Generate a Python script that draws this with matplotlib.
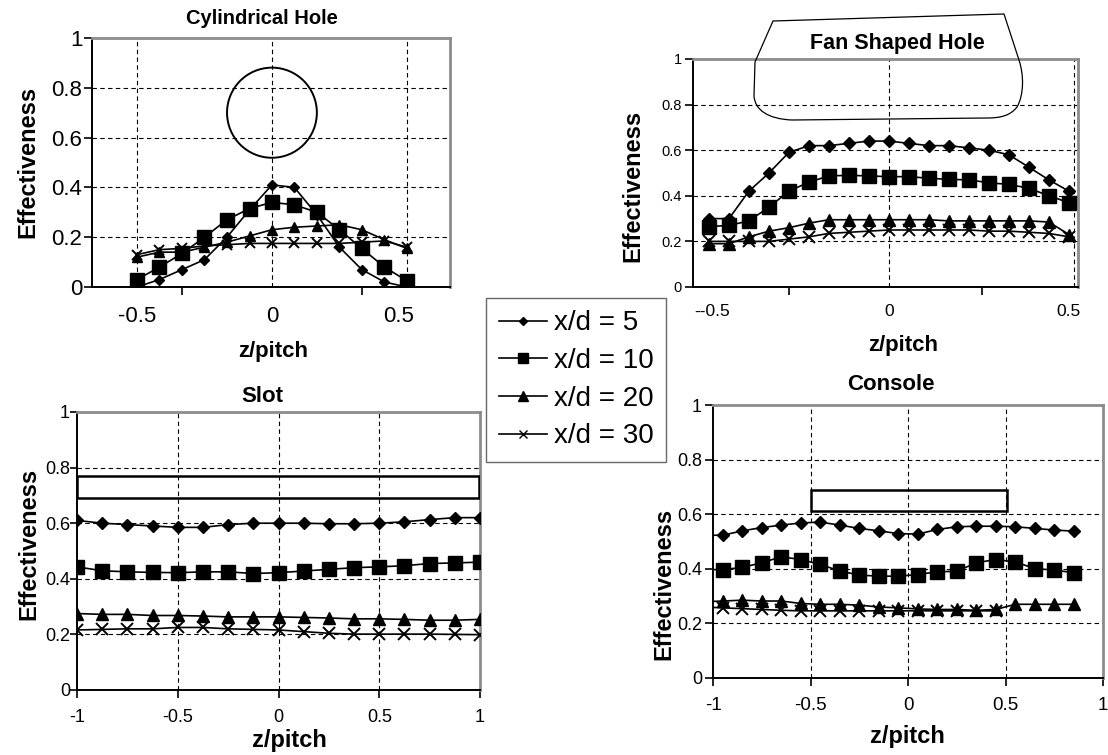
import matplotlib
matplotlib.use("Agg")
import matplotlib.pyplot as plt
from matplotlib.patches import Ellipse, Rectangle, PathPatch
from matplotlib.path import Path
from matplotlib.lines import Line2D
import matplotlib.transforms as mtransforms

# ---------------- data ----------------
series_labels = ["x/d = 5", "x/d = 10", "x/d = 20", "x/d = 30"]

cyl_z = [-0.5, -0.417, -0.333, -0.25, -0.167, -0.083, 0.0, 0.083, 0.167, 0.25, 0.333, 0.417, 0.5]
cyl_5 = [0.00, 0.03, 0.07, 0.11, 0.20, 0.31, 0.41, 0.40, 0.29, 0.16, 0.07, 0.02, 0.00]
cyl_10 = [0.03, 0.08, 0.135, 0.20, 0.27, 0.315, 0.34, 0.33, 0.30, 0.23, 0.155, 0.08, 0.025]
cyl_20 = [0.12, 0.14, 0.14, 0.16, 0.18, 0.205, 0.23, 0.24, 0.245, 0.25, 0.23, 0.19, 0.155]
cyl_30 = [0.13, 0.15, 0.155, 0.165, 0.17, 0.175, 0.175, 0.175, 0.175, 0.175, 0.18, 0.185, 0.16]

fan_z = [-0.5, -0.444, -0.389, -0.333, -0.278, -0.222, -0.167, -0.111, -0.056, 0.0,
         0.056, 0.111, 0.167, 0.222, 0.278, 0.333, 0.389, 0.444, 0.5]
fan_5 = [0.30, 0.30, 0.42, 0.50, 0.59, 0.62, 0.62, 0.63, 0.64, 0.64, 0.63, 0.62, 0.62, 0.61, 0.60, 0.58, 0.525, 0.47, 0.42]
fan_10 = [0.265, 0.27, 0.29, 0.35, 0.42, 0.46, 0.487, 0.49, 0.487, 0.484, 0.484, 0.477, 0.472, 0.47, 0.457, 0.45, 0.433, 0.40, 0.37]
fan_20 = [0.19, 0.19, 0.22, 0.245, 0.26, 0.28, 0.295, 0.295, 0.295, 0.295, 0.295, 0.295, 0.29, 0.29, 0.29, 0.29, 0.29, 0.285, 0.23]
fan_30 = [0.20, 0.20, 0.20, 0.20, 0.21, 0.22, 0.235, 0.24, 0.245, 0.25, 0.25, 0.25, 0.25, 0.25, 0.245, 0.245, 0.24, 0.235, 0.22]

slot_z = [-1.0, -0.875, -0.75, -0.625, -0.5, -0.375, -0.25, -0.125, 0.0,
          0.125, 0.25, 0.375, 0.5, 0.625, 0.75, 0.875, 1.0]
slot_5 = [0.61, 0.60, 0.595, 0.59, 0.585, 0.585, 0.595, 0.60, 0.60, 0.60, 0.598, 0.598, 0.60, 0.605, 0.613, 0.62, 0.62]
slot_10 = [0.443, 0.429, 0.425, 0.423, 0.422, 0.425, 0.425, 0.419, 0.422, 0.428, 0.434, 0.44, 0.443, 0.447, 0.455, 0.457, 0.46]
slot_20 = [0.275, 0.272, 0.272, 0.268, 0.268, 0.266, 0.263, 0.263, 0.263, 0.261, 0.259, 0.256, 0.256, 0.254, 0.251, 0.251, 0.254]
slot_30 = [0.216, 0.218, 0.22, 0.22, 0.225, 0.225, 0.22, 0.218, 0.216, 0.21, 0.204, 0.201, 0.201, 0.201, 0.201, 0.2, 0.199]

con_z = [-1.05, -0.95, -0.85, -0.75, -0.65, -0.55, -0.45, -0.35, -0.25, -0.15,
         -0.05, 0.05, 0.15, 0.25, 0.35, 0.45, 0.55, 0.65, 0.75, 0.85]
con_5 = [0.523, 0.523, 0.539, 0.551, 0.56, 0.568, 0.571, 0.56, 0.548, 0.539, 0.529, 0.527, 0.544, 0.554, 0.556, 0.556, 0.554, 0.548, 0.542, 0.538]
con_10 = [0.397, 0.397, 0.405, 0.422, 0.444, 0.434, 0.416, 0.392, 0.377, 0.373, 0.373, 0.379, 0.389, 0.391, 0.422, 0.434, 0.425, 0.401, 0.395, 0.386]
con_20 = [0.279, 0.282, 0.285, 0.282, 0.282, 0.273, 0.27, 0.27, 0.267, 0.26, 0.257, 0.253, 0.251, 0.251, 0.248, 0.251, 0.27, 0.27, 0.27, 0.27]
con_30 = [0.26, 0.257, 0.254, 0.251, 0.248, 0.246, 0.246, 0.246, 0.246, 0.246, 0.246, 0.246, 0.246, 0.246, 0.246, 0.246]

y_ticks = [0, 0.2, 0.4, 0.6, 0.8, 1]
y_ticklabels = ["0", "0.2", "0.4", "0.6", "0.8", "1"]

# ---------------- figure ----------------
plt.rcParams['font.family'] = ['Liberation Sans', 'DejaVu Sans']
W, H = 1108, 755
fig = plt.figure(figsize=(W / 100, H / 100), dpi=100)
fig.patch.set_facecolor('white')

px = mtransforms.Affine2D().scale(1 / W, -1 / H).translate(0, 1) + fig.transFigure


def add_ax(l, t, r, b):
    return fig.add_axes([l / W, 1 - b / H, (r - l) / W, (b - t) / H])


def ftext(x, y, s, **kw):
    fig.text(x / W, 1 - y / H, s, ha='center', va='center', **kw)


MS = dict(
    d5=dict(marker='D', markersize=5.8),
    d10=dict(marker='s', markersize=10.5),
    d20=dict(marker='^', markersize=8.5),
    d30=dict(marker='x', markersize=8.5, markeredgewidth=1.4),
)


def plot_series(ax, z, ys, scale=1.0):
    keys = ['d5', 'd10', 'd20', 'd30']
    handles = []
    for zz, yy, k, lab in zip(z, ys, keys, series_labels):
        st = dict(MS[k])
        st['markersize'] = st['markersize'] * scale
        h, = ax.plot(zz, yy, color='black', lw=1.2, mfc='black', mec='black',
                     label=lab, zorder=3, **st)
        handles.append(h)
    return handles


def style_ax(ax, xlim, xgrid, ygrid=(0.2, 0.4, 0.6, 0.8)):
    ax.set_xlim(*xlim)
    ax.set_ylim(0, 1)
    for g in xgrid:
        ax.axvline(g, color='black', lw=0.8, ls=(0, (4, 3)), zorder=1)
    for g in ygrid:
        ax.axhline(g, color='black', lw=0.8, ls=(0, (4, 3)), zorder=1)
    for s in ['left', 'bottom']:
        ax.spines[s].set_color('black')
        ax.spines[s].set_linewidth(1.4)
    for s in ['top', 'right']:
        ax.spines[s].set_color('#8c8c8c')
        ax.spines[s].set_linewidth(2.0)
    ax.set_yticks(y_ticks)
    ax.set_yticklabels(y_ticklabels)
    ax.tick_params(axis='both', which='both', direction='out', color='black', width=1.2)
    ax.tick_params(axis='y', length=6, pad=2)


# ---- Panel 1: Cylindrical Hole ----
ax1 = add_ax(92, 38, 450, 287)
style_ax(ax1, (-0.667, 0.66), [-0.5, 0, 0.5])
plot_series(ax1, [cyl_z] * 4, [cyl_5, cyl_10, cyl_20, cyl_30], scale=0.92)
ax1.set_xticks([-0.5, 0, 0.468])
ax1.set_xticklabels(["-0.5", "0", "0.5"])
ax1.set_xticks([-0.333, 0, 0.333], minor=True)
ax1.tick_params(axis='x', which='major', length=0, pad=14, labelsize=16)
ax1.tick_params(axis='x', which='minor', length=6)
ax1.tick_params(axis='y', labelsize=16, pad=1)
ax1.add_patch(Ellipse((0, 0.7), 0.333, 0.362, fill=False, ec='black', lw=1.4, zorder=4))
ftext(262, 18, "Cylindrical Hole", fontsize=14.5, fontweight='bold')
ftext(28, 162, "Effectiveness", fontsize=17, fontweight='bold', rotation=90)
ftext(273, 352, "z/pitch", fontsize=16, fontweight='bold')

# ---- Panel 2: Fan Shaped Hole ----
ax2 = add_ax(693, 59, 1078, 287)
style_ax(ax2, (-0.544, 0.525), [0, 0.515])
plot_series(ax2, [fan_z] * 4, [fan_5, fan_10, fan_20, fan_30], scale=1.0)
ax2.set_xticks([-0.49, 0, 0.5])
ax2.set_xticklabels(["--0.5", "0", "0.5"])
ax2.set_xticks([-0.277, 0, 0.258], minor=True)
ax2.tick_params(axis='x', which='major', length=0, pad=12, labelsize=12.5)
ax2.tick_params(axis='x', which='minor', length=6)
ax2.tick_params(axis='y', labelsize=10.5)
fan_verts = [(773, 21), (1004, 14), (1019, 60),
             (1024, 75), (1024, 95), (1017, 107),
             (1010, 116), (1000, 118), (987, 118),
             (792, 120),
             (768, 119), (755, 110), (754, 96),
             (755, 62), (773, 21)]
fan_codes = [Path.MOVETO, Path.LINETO, Path.LINETO,
             Path.CURVE4, Path.CURVE4, Path.CURVE4,
             Path.CURVE4, Path.CURVE4, Path.CURVE4,
             Path.LINETO,
             Path.CURVE4, Path.CURVE4, Path.CURVE4,
             Path.LINETO, Path.CLOSEPOLY]
fig.add_artist(PathPatch(Path(fan_verts, fan_codes), transform=px, fill=False,
                         ec='black', lw=0.9, zorder=5))
ftext(897, 43, "Fan Shaped Hole", fontsize=15.5, fontweight='bold')
ftext(633, 186, "Effectiveness", fontsize=17, fontweight='bold', rotation=90)
ftext(903, 345, "z/pitch", fontsize=16, fontweight='bold')

# ---- Panel 3: Slot ----
ax3 = add_ax(77, 412, 480, 690)
style_ax(ax3, (-1, 1), [-0.5, 0, 0.5])
plot_series(ax3, [slot_z] * 4, [slot_5, slot_10, slot_20, slot_30], scale=1.0)
ax3.set_xticks([-1, -0.5, 0, 0.5, 1])
ax3.set_xticklabels(["-1", "-0.5", "0", "0.5", "1"])
ax3.tick_params(axis='x', length=6, pad=8, labelsize=13)
ax3.tick_params(axis='y', labelsize=13, length=5, pad=0)
ax3.add_patch(Rectangle((-1, 0.69), 1.995, 0.08, fill=False, ec='black', lw=1.8, zorder=4))
ftext(262, 397, "Slot", fontsize=16, fontweight='bold')
ftext(29, 544, "Effectiveness", fontsize=17, fontweight='bold', rotation=90)
ftext(289, 741, "z/pitch", fontsize=17, fontweight='bold')

# ---- Panel 4: Console ----
ax4 = add_ax(713, 405, 1103, 678)
style_ax(ax4, (-1, 1), [-0.5, 0, 0.5])
plot_series(ax4, [con_z, con_z, con_z, con_z[:len(con_30)]],
            [con_5, con_10, con_20, con_30], scale=1.0)
ax4.set_xticks([-1, -0.5, 0, 0.5, 1])
ax4.set_xticklabels(["-1", "-0.5", "0", "0.5", "1"])
ax4.set_xlim(-1, 1)
ax4.tick_params(axis='x', length=6, pad=8, labelsize=13.5)
ax4.tick_params(axis='y', labelsize=13)
ax4.add_patch(Rectangle((-0.5, 0.61), 1.01, 0.08, fill=False, ec='black', lw=1.8, zorder=4))
ftext(891, 384, "Console", fontsize=16, fontweight='bold')
ftext(664, 584, "Effectiveness", fontsize=17, fontweight='bold', rotation=90)
ftext(907, 736, "z/pitch", fontsize=17, fontweight='bold')

# ---- Legend ----
leg_handles = [
    Line2D([], [], color='black', lw=1.2, marker='D', markersize=4, mfc='black', mec='black'),
    Line2D([], [], color='black', lw=1.2, marker='s', markersize=7, mfc='black', mec='black'),
    Line2D([], [], color='black', lw=1.2, marker='^', markersize=6.5, mfc='black', mec='black'),
    Line2D([], [], color='black', lw=1.2, marker='x', markersize=6, mec='black'),
]
leg = fig.legend(leg_handles, series_labels, loc='upper left',
                 bbox_to_anchor=(486 / W, 1 - 298 / H), fontsize=20,
                 frameon=True, fancybox=False, edgecolor='#444444',
                 handlelength=1.75, handletextpad=0.25, labelspacing=0.42,
                 borderpad=0.45, borderaxespad=0)
leg.get_frame().set_linewidth(1.0)

fig.savefig("out.png", dpi=100, facecolor='white')
